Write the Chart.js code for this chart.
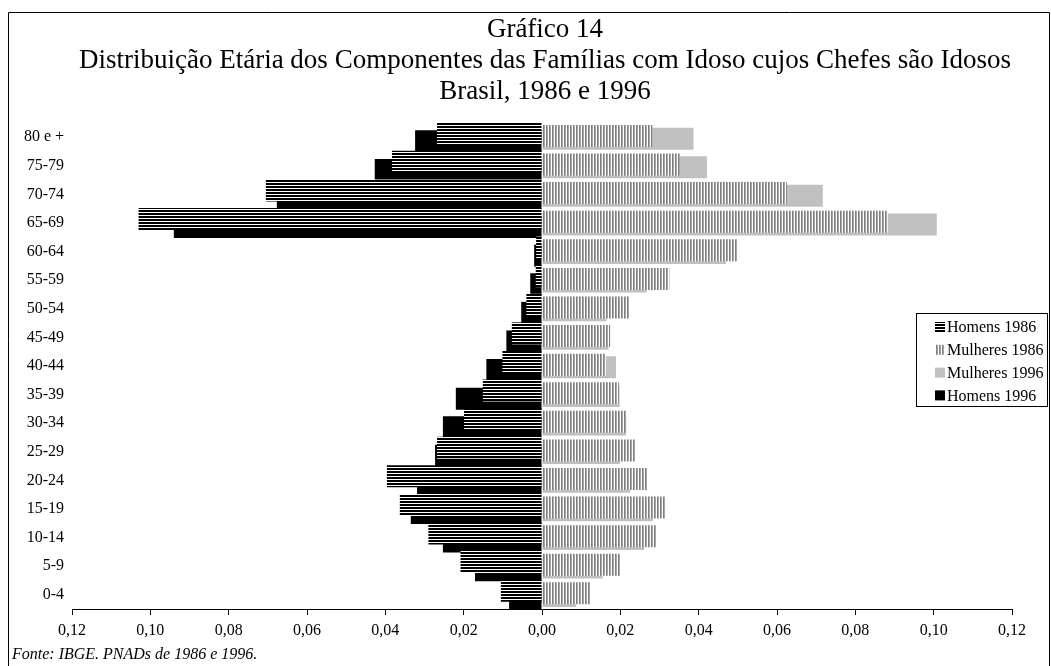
<!DOCTYPE html>
<html lang="pt">
<head>
  <meta charset="UTF-8" />
  <title>Gráfico 14</title>
  <script src="https://cdn.jsdelivr.net/npm/chart.js"></script>
  <style>
    html, body { margin: 0; padding: 0; background: #fff; }
    #wrap { width: 1051px; height: 666px; }
  </style>
</head>
<body>
  <div id="wrap"><canvas id="piramide"></canvas></div>

  <script>
    // faixas etárias (de baixo para cima)
    const faixas = ['0-4', '5-9', '10-14', '15-19', '20-24', '25-29', '30-34', '35-39',
                    '40-44', '45-49', '50-54', '55-59', '60-64', '65-69', '70-74', '75-79', '80 e +'];

    const homens1986   = [0.0105, 0.0208, 0.0290, 0.0363, 0.0396, 0.0268, 0.0199, 0.0151, 0.0101,
                          0.0077, 0.0040, 0.0016, 0.0015, 0.1030, 0.0705, 0.0383, 0.0268];
    const mulheres1986 = [0.0123, 0.0201, 0.0291, 0.0316, 0.0268, 0.0240, 0.0215, 0.0196, 0.0163,
                          0.0174, 0.0223, 0.0325, 0.0499, 0.0883, 0.0625, 0.0352, 0.0282];
    const mulheres1996 = [0.0087, 0.0155, 0.0261, 0.0283, 0.0225, 0.0199, 0.0215, 0.0198, 0.0189,
                          0.0170, 0.0165, 0.0267, 0.0470, 0.1008, 0.0717, 0.0421, 0.0387];
    const homens1996   = [0.0084, 0.0171, 0.0253, 0.0335, 0.0319, 0.0273, 0.0253, 0.0220, 0.0142,
                          0.0091, 0.0053, 0.0030, 0.0020, 0.0940, 0.0677, 0.0427, 0.0324];

    const titulo = ['Gráfico 14',
                    'Distribuição Etária dos Componentes das Famílias com Idoso cujos Chefes são Idosos',
                    'Brasil, 1986 e 1996'];
    const fonte = 'Fonte: IBGE. PNADs de 1986 e 1996.';

    const SERIF = '"Liberation Serif", "Times New Roman", serif';

    function padrao(w, h, pinta) {
      const c = document.createElement('canvas');
      c.width = w; c.height = h;
      const g = c.getContext('2d');
      g.fillStyle = '#fff';
      g.fillRect(0, 0, w, h);
      pinta(g);
      return g.createPattern(c, 'repeat');
    }

    // listras horizontais pretas (homens 1986)
    const listrasH = padrao(4, 3, g => {
      g.fillStyle = '#000';
      g.fillRect(0, 0, 4, 2);
    });
    // listras verticais cinza (mulheres 1986)
    const listrasV = padrao(3, 4, g => {
      g.fillStyle = '#7f7f7f';
      g.fillRect(0, 0, 1, 4);
      g.fillStyle = '#a6a6a6';
      g.fillRect(1, 0, 1, 4);
    });

    const moldura = {
      id: 'moldura',
      beforeDraw(chart) {
        const g = chart.ctx;
        g.save();
        g.fillStyle = '#fff';
        g.fillRect(0, 0, chart.width, chart.height);
        g.strokeStyle = '#000';
        g.lineWidth = 1;
        g.beginPath();
        g.moveTo(8.5, chart.height + 5);
        g.lineTo(8.5, 12.5);
        g.lineTo(1049.5, 12.5);
        g.lineTo(1049.5, chart.height + 5);
        g.stroke();
        g.restore();
      },
      afterDraw(chart) {
        const g = chart.ctx;
        g.save();
        g.fillStyle = '#000';
        g.textAlign = 'center';
        g.textBaseline = 'middle';
        g.font = '27px ' + SERIF;
        const ys = [30, 61, 92];
        titulo.forEach((t, i) => g.fillText(t, 545, ys[i]));

        g.textAlign = 'left';
        g.font = 'italic 16px ' + SERIF;
        g.fillText(fonte, 12, 655);

        // legenda
        g.strokeStyle = '#000';
        g.lineWidth = 1;
        g.strokeRect(916.5, 313.5, 131, 93);
        g.font = '16px ' + SERIF;
        chart.data.datasets.forEach((ds, i) => {
          const y = 327 + i * 22.8;
          g.fillStyle = ds.backgroundColor;
          g.fillRect(935, y - 5, 10, 10);
          g.fillStyle = '#000';
          g.fillText(ds.label, 947, y + 1);
        });
        g.restore();
      }
    };

    const ctx = document.getElementById('piramide').getContext('2d');
    const chart = new Chart(ctx, {
      type: 'bar',
      data: {
        labels: faixas,
        datasets: [
          { label: 'Homens 1986',   data: homens1986.map(v => -v), backgroundColor: listrasH },
          { label: 'Mulheres 1986', data: mulheres1986,            backgroundColor: listrasV },
          { label: 'Mulheres 1996', data: mulheres1996,            backgroundColor: '#c0c0c0' },
          { label: 'Homens 1996',   data: homens1996.map(v => -v), backgroundColor: '#000000' }
        ]
      },
      options: {
        indexAxis: 'y',
        responsive: true,
        maintainAspectRatio: false,
        animation: false,
        layout: { padding: { top: 123, right: 39, bottom: 0, left: 0 } },
        datasets: {
          bar: { categoryPercentage: 0.378, barPercentage: 8.15, borderWidth: 0 }
        },
        plugins: {
          legend: { display: false },
          title: { display: false },
          tooltip: { enabled: false }
        },
        scales: {
          x: {
            type: 'linear',
            min: -0.12,
            max: 0.12,
            ticks: {
              stepSize: 0.02,
              color: '#000',
              padding: 6,
              font: { family: SERIF, size: 16 },
              callback: v => Math.abs(v).toFixed(2).replace('.', ',')
            },
            grid: { drawOnChartArea: false, drawTicks: true, tickLength: 6, tickColor: '#000' },
            border: { display: true, color: '#000', width: 1 },
            afterFit: s => { s.height = 57; }
          },
          y: {
            type: 'category',
            reverse: true,
            ticks: { color: '#000', padding: 0, font: { family: SERIF, size: 16 } },
            grid: { display: false },
            border: { display: false },
            afterFit: s => { s.width = 72; }
          }
        }
      },
      plugins: [moldura]
    });
  </script>
</body>
</html>
